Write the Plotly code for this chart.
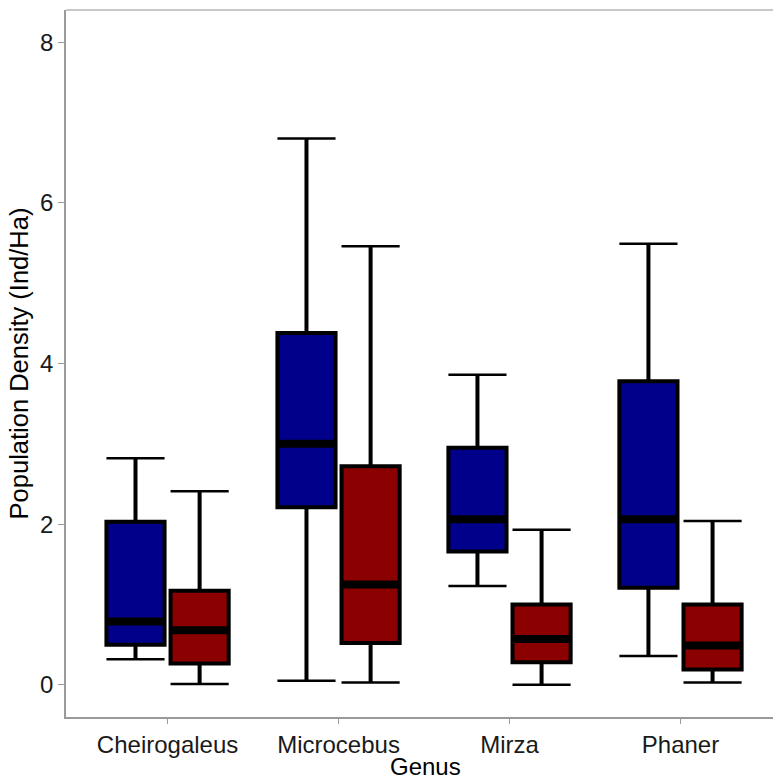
import plotly.graph_objects as go

genera = ["Cheirogaleus", "Microcebus", "Mirza", "Phaner"]

# group 1 (blue)
blue_lower = [0.32, 0.05, 1.23, 0.36]
blue_q1 = [0.50, 2.21, 1.66, 1.21]
blue_med = [0.79, 3.00, 2.06, 2.06]
blue_q3 = [2.03, 4.38, 2.95, 3.78]
blue_upper = [2.82, 6.80, 3.86, 5.49]

# group 2 (red)
red_lower = [0.01, 0.03, 0.00, 0.03]
red_q1 = [0.265, 0.52, 0.28, 0.19]
red_med = [0.68, 1.25, 0.57, 0.49]
red_q3 = [1.17, 2.72, 1.00, 1.00]
red_upper = [2.41, 5.46, 1.93, 2.04]

BOX_W = 0.34
DODGE = 0.1875
FONT = "Liberation Sans, Arial, sans-serif"

fig = go.Figure()


def add_group(offset, lower, q1, med, q3, upper, fill):
    xs = [i + offset for i in range(len(genera))]
    fig.add_trace(go.Box(
        x=xs, q1=q1, median=med, q3=q3, lowerfence=lower, upperfence=upper,
        width=BOX_W, fillcolor=fill, line=dict(color="black", width=4),
        whiskerwidth=0, boxpoints=False, showlegend=False, hoverinfo="skip",
    ))
    # thick median bar
    mx, my = [], []
    for x, m in zip(xs, med):
        mx += [x - BOX_W / 2, x + BOX_W / 2, None]
        my += [m, m, None]
    fig.add_trace(go.Scatter(x=mx, y=my, mode="lines",
                             line=dict(color="black", width=8),
                             showlegend=False, hoverinfo="skip"))
    # whisker caps
    cx, cy = [], []
    for x, lo, hi in zip(xs, lower, upper):
        cx += [x - BOX_W / 2, x + BOX_W / 2, None, x - BOX_W / 2, x + BOX_W / 2, None]
        cy += [lo, lo, None, hi, hi, None]
    fig.add_trace(go.Scatter(x=cx, y=cy, mode="lines",
                             line=dict(color="black", width=2.5),
                             showlegend=False, hoverinfo="skip"))


add_group(-DODGE, blue_lower, blue_q1, blue_med, blue_q3, blue_upper, "#00008B")
add_group(DODGE, red_lower, red_q1, red_med, red_q3, red_upper, "#8B0000")

fig.update_layout(
    width=773, height=781,
    margin=dict(l=66, r=0, t=10, b=64),
    plot_bgcolor="white", paper_bgcolor="white",
    boxmode="overlay",
    font=dict(family=FONT, size=24, color="black"),
    shapes=[dict(type="line", xref="paper", yref="paper", x0=0, x1=1, y0=1, y1=1,
                 line=dict(color="#c8c8c8", width=2))],
    annotations=[dict(text="Genus", xref="paper", yref="paper",
                      x=0.5078, y=-0.0707, xanchor="center", yanchor="middle",
                      showarrow=False, font=dict(size=24, color="black"))],
)
fig.update_xaxes(
    range=[-0.594, 3.541], tickvals=list(range(len(genera))), ticktext=genera,
    showline=True, linecolor="#9a9a9a", linewidth=1.5,
    ticks="outside", ticklen=5, tickcolor="#9a9a9a",
    showgrid=False, zeroline=False,
    tickfont=dict(size=24, color="#1a1a1a"),
)
fig.update_yaxes(
    range=[-0.4, 8.4], tickvals=[0, 2, 4, 6, 8],
    showline=True, linecolor="#9a9a9a", linewidth=1.5,
    ticks="outside", ticklen=6, tickcolor="#9a9a9a",
    showgrid=False, zeroline=False,
    tickfont=dict(size=24, color="#1a1a1a"),
    title=dict(text="Population Density (Ind/Ha)", font=dict(size=25.5), standoff=4),
)

fig.write_html("out.html")
